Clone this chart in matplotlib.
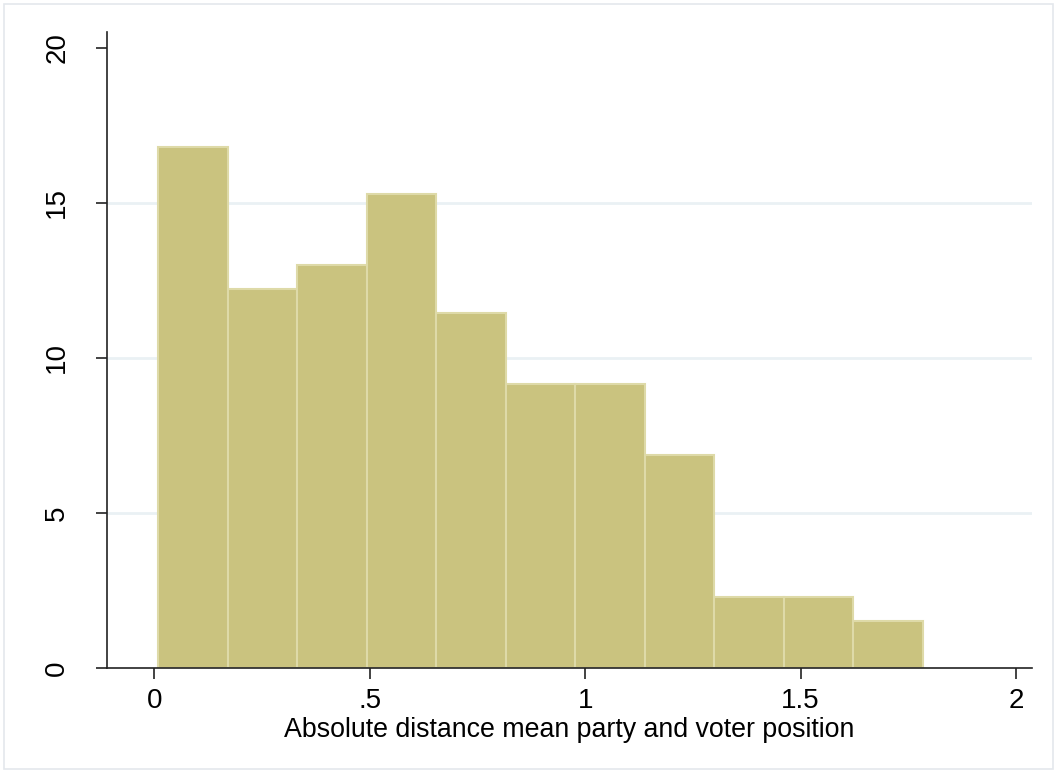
import matplotlib
matplotlib.use("Agg")
import matplotlib.pyplot as plt
from matplotlib.patches import Rectangle

# histogram: bin edges and percent per bin
bin_start = 0.0093
bin_width = 0.1613
percents = [16.79, 12.21, 12.98, 15.27, 11.45, 9.16, 9.16, 6.87, 2.29, 2.29, 1.53]
x_ticks = [0, 0.5, 1, 1.5, 2]
x_tick_labels = ["0", ".5", "1", "1.5", "2"]
y_ticks = [0, 5, 10, 15, 20]
y_tick_labels = ["0", "5", "10", "15", "20"]
x_title = "Absolute distance mean party and voter position"

plt.rcParams["font.family"] = ["Liberation Sans", "DejaVu Sans"]

fig = plt.figure(figsize=(10.57, 7.73), dpi=100)
fig.patch.set_facecolor("white")
fig.add_artist(Rectangle((4 / 1057, 4 / 773), 1 - 8 / 1057, 1 - 8 / 773,
                         transform=fig.transFigure, fill=False,
                         edgecolor="#e4e8ec", linewidth=1.2))

ax = fig.add_axes([107 / 1057, 1 - 668 / 773, (1032 - 107) / 1057, (668 - 32) / 773])

for g in [5, 10, 15]:
    ax.axhline(g, color="#eaf1f4", linewidth=2, zorder=0)

lefts = [bin_start + i * bin_width for i in range(len(percents))]
ax.bar(lefts, percents, width=bin_width, align="edge",
       color="#cac37f", edgecolor="#dedaa8", linewidth=1.5, zorder=2)

ax.set_xlim(-0.110, 2.037)
ax.set_ylim(0, 20.5)
ax.set_xticks(x_ticks)
ax.set_xticklabels(x_tick_labels)
ax.set_yticks(y_ticks)
ax.set_yticklabels(y_tick_labels, rotation=90, va="center")

for side in ["top", "right"]:
    ax.spines[side].set_visible(False)
for side in ["left", "bottom"]:
    ax.spines[side].set_color("#222222")
    ax.spines[side].set_linewidth(1.2)

ax.tick_params(axis="both", direction="out", width=1.2, length=8,
               color="#222222", labelsize=20, labelcolor="black")
ax.tick_params(axis="x", pad=6.5)
ax.tick_params(axis="y", pad=18.5)

ax.set_xlabel(x_title, fontsize=19.3, labelpad=2)

fig.savefig("out.png", dpi=100)
plt.close(fig)
